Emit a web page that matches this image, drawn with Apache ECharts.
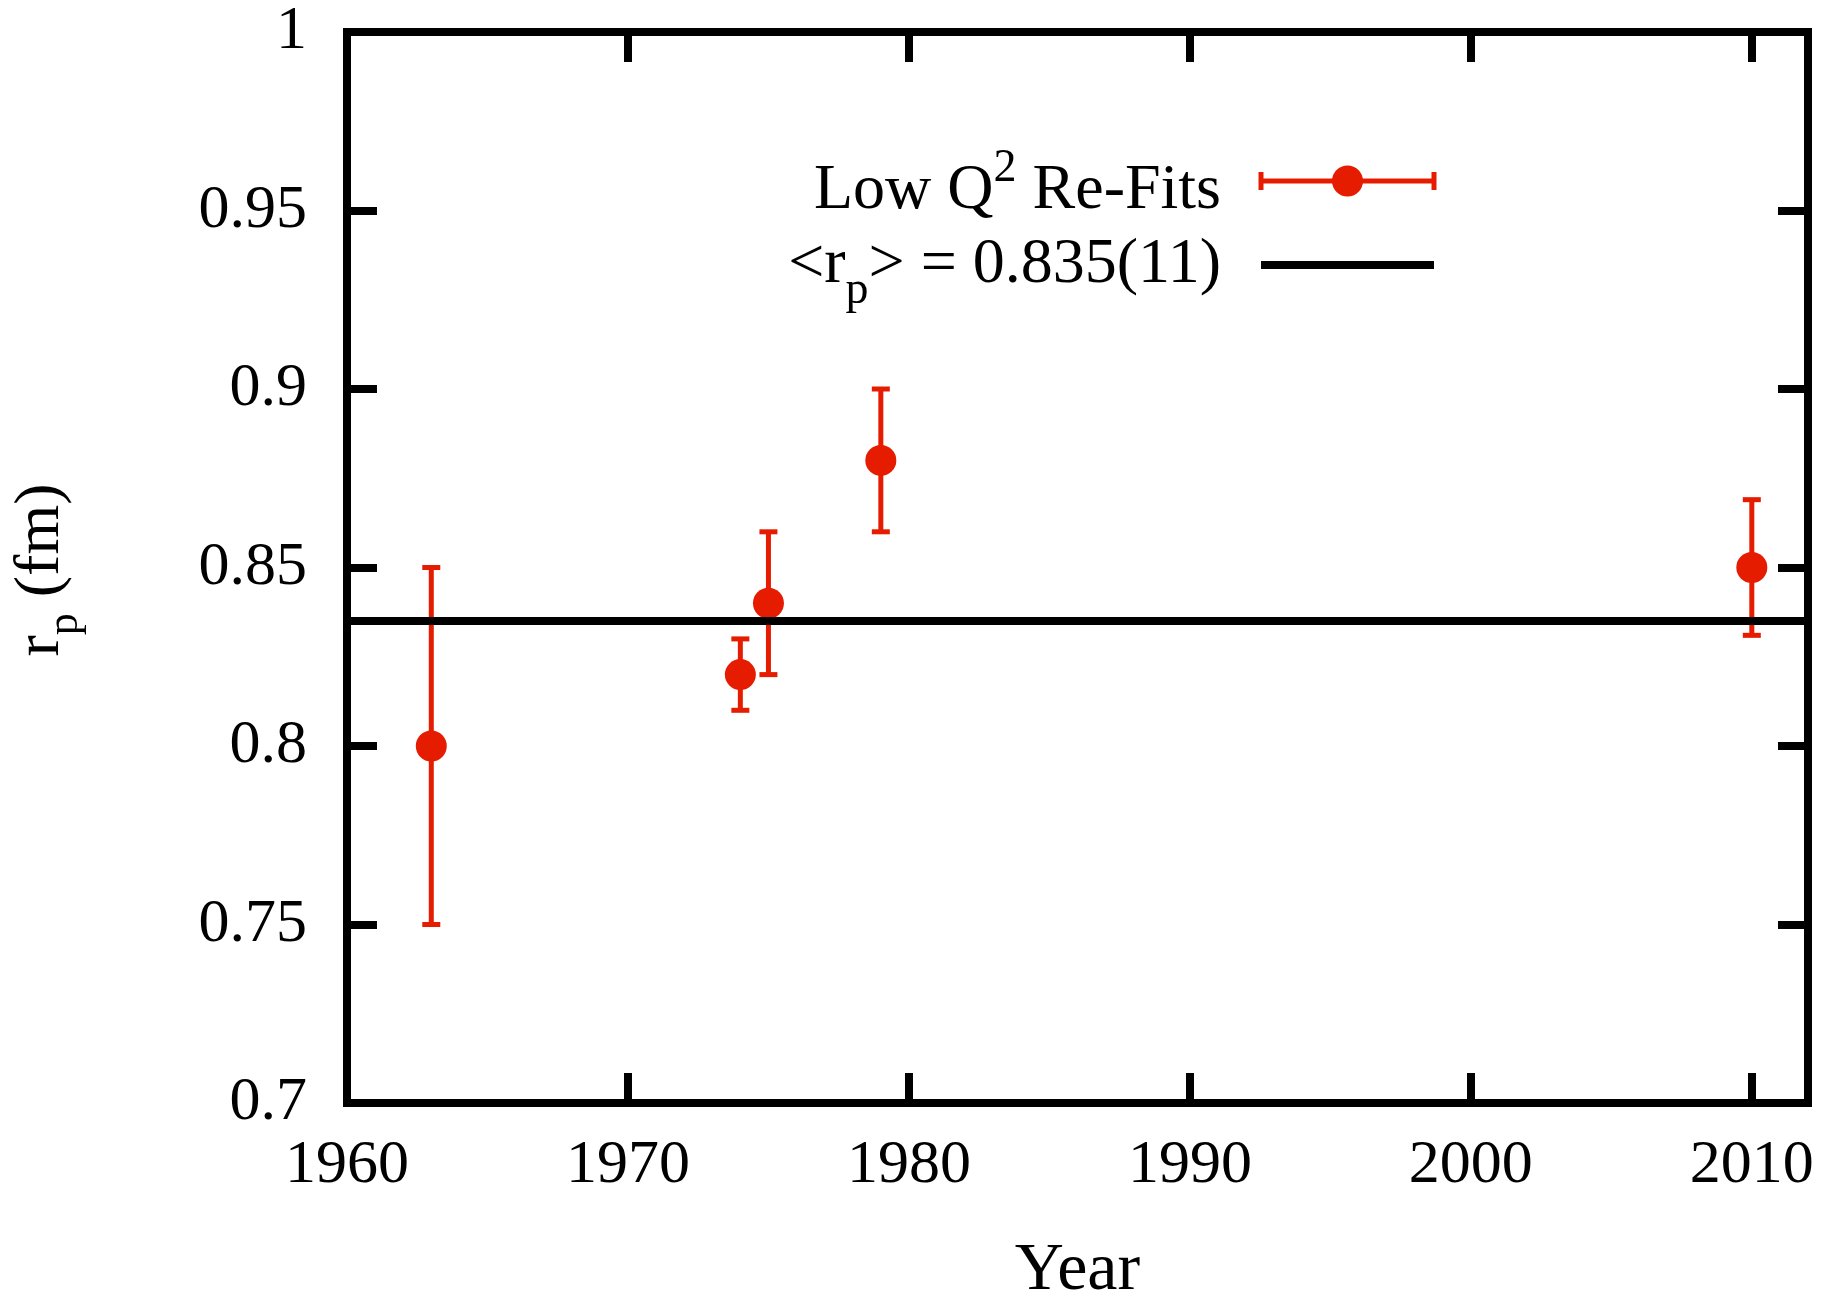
<!DOCTYPE html>
<html>
<head>
<meta charset="utf-8">
<script src="https://cdn.jsdelivr.net/npm/echarts@6/dist/echarts.min.js"></script>
<style>
  html, body { margin: 0; padding: 0; background: #fff; }
  #chart { width: 1836px; height: 1290px; }
</style>
</head>
<body>
<div id="chart"></div>
<script>
// data
const years = [1963, 1974, 1975, 1979, 2010];
const radius = [0.80, 0.82, 0.84, 0.88, 0.85];
const errors = [0.05, 0.01, 0.02, 0.02, 0.019];
const meanRadius = 0.835;
const yearRange = [1960, 2012];
const radiusRange = [0.7, 1.0];

const RED = '#e61c00';
const FONT = '"Liberation Serif", "Times New Roman", serif';

const myChart = echarts.init(document.getElementById('chart'));

// measure text so the sub/superscript pieces can be placed side by side
const measureCtx = document.createElement('canvas').getContext('2d');
function textWidth(text, size) {
  measureCtx.font = size + 'px ' + FONT;
  return measureCtx.measureText(text).width;
}

// parts: [text, fontSize, baselineShift]; returns text elements laid out from x0
function richPieces(parts, x0, baseline) {
  let x = x0;
  return parts.map(([text, size, shift]) => {
    const el = {
      type: 'text',
      style: {
        text: text,
        x: x,
        y: baseline + shift - size * 0.33,
        font: size + 'px ' + FONT,
        fill: '#000',
        align: 'left',
        verticalAlign: 'middle',
        textAlign: 'left',
        textVerticalAlign: 'middle',
      },
    };
    x += textWidth(text, size);
    return el;
  });
}
function piecesWidth(parts) {
  return parts.reduce((s, [t, size]) => s + textWidth(t, size), 0);
}

const legendRow1 = [['Low Q', 64, 0], ['2', 46, -28], [' Re-Fits', 64, 0]];
const legendRow2 = [['<r', 64, 0], ['p', 46, 20], ['> = 0.835(11)', 64, 0]];
const yName = [['r', 64, 0], ['p', 44, 18], [' (fm)', 64, 0]];

const legendRight = 1221;
const sampleX = [1261, 1434];
const row1Y = 181;
const row2Y = 265;

const errorData = years.map((y, i) => [y, radius[i], errors[i]]);
const pointData = years.map((y, i) => [y, radius[i]]);

const axisLineStyle = { color: '#000', width: 8, cap: 'square' };
const tickStyle = { show: true, inside: true, length: 30, lineStyle: { color: '#000', width: 8 } };
const labelStyle = { fontFamily: FONT, fontSize: 62, color: '#000' };

const option = {
  backgroundColor: '#fff',
  animation: false,
  grid: { left: 347, right: 28, top: 32, bottom: 187, containLabel: false, outerBoundsMode: 'none' },
  xAxis: [
    {
      type: 'value',
      min: yearRange[0],
      max: yearRange[1],
      interval: 10,
      axisLine: { onZero: false, lineStyle: axisLineStyle },
      axisTick: tickStyle,
      axisLabel: Object.assign({ margin: 32, showMaxLabel: false, formatter: (v) => String(v) }, labelStyle),
      splitLine: { show: false },
      name: 'Year',
      nameLocation: 'middle',
      nameGap: 134,
      nameTextStyle: { fontFamily: FONT, fontSize: 68, color: '#000', verticalAlign: 'top' },
    },
    {
      type: 'value',
      position: 'top',
      min: yearRange[0],
      max: yearRange[1],
      interval: 10,
      axisLine: { onZero: false, lineStyle: axisLineStyle },
      axisTick: tickStyle,
      axisLabel: { show: false },
      splitLine: { show: false },
    },
  ],
  yAxis: [
    {
      type: 'value',
      min: radiusRange[0],
      max: radiusRange[1],
      interval: 0.05,
      axisLine: { onZero: false, lineStyle: axisLineStyle },
      axisTick: tickStyle,
      axisLabel: Object.assign({ margin: 40 }, labelStyle),
      splitLine: { show: false },
    },
    {
      type: 'value',
      position: 'right',
      min: radiusRange[0],
      max: radiusRange[1],
      interval: 0.05,
      axisLine: { onZero: false, lineStyle: axisLineStyle },
      axisTick: tickStyle,
      axisLabel: { show: false },
      splitLine: { show: false },
    },
  ],
  series: [
    {
      name: 'errors',
      type: 'custom',
      z: 2,
      data: errorData,
      renderItem: (params, api) => {
        const x = api.value(0);
        const y = api.value(1);
        const e = api.value(2);
        const lo = api.coord([x, y - e]);
        const hi = api.coord([x, y + e]);
        const cap = 9;
        const st = { stroke: RED, lineWidth: 5 };
        return {
          type: 'group',
          children: [
            { type: 'line', shape: { x1: lo[0], y1: lo[1], x2: hi[0], y2: hi[1] }, style: st },
            { type: 'line', shape: { x1: lo[0] - cap, y1: lo[1], x2: lo[0] + cap, y2: lo[1] }, style: st },
            { type: 'line', shape: { x1: hi[0] - cap, y1: hi[1], x2: hi[0] + cap, y2: hi[1] }, style: st },
          ],
        };
      },
    },
    {
      name: 'Low Q2 Re-Fits',
      type: 'scatter',
      z: 3,
      data: pointData,
      symbol: 'circle',
      symbolSize: 31,
      itemStyle: { color: RED, opacity: 1 },
    },
    {
      name: 'mean',
      type: 'line',
      z: 4,
      data: [[yearRange[0], meanRadius], [yearRange[1], meanRadius]],
      showSymbol: false,
      symbol: 'none',
      lineStyle: { color: '#000', width: 8 },
    },
  ],
  graphic: [
    // legend text
    ...richPieces(legendRow1, legendRight - piecesWidth(legendRow1), 212),
    ...richPieces(legendRow2, legendRight - piecesWidth(legendRow2), 286),
    // legend sample: error bar with point
    { type: 'line', shape: { x1: sampleX[0], y1: row1Y, x2: sampleX[1], y2: row1Y }, style: { stroke: RED, lineWidth: 5 } },
    { type: 'line', shape: { x1: sampleX[0], y1: row1Y - 9, x2: sampleX[0], y2: row1Y + 9 }, style: { stroke: RED, lineWidth: 5 } },
    { type: 'line', shape: { x1: sampleX[1], y1: row1Y - 9, x2: sampleX[1], y2: row1Y + 9 }, style: { stroke: RED, lineWidth: 5 } },
    { type: 'circle', shape: { cx: (sampleX[0] + sampleX[1]) / 2, cy: row1Y, r: 15.5 }, style: { fill: RED } },
    // legend sample: mean line
    { type: 'line', shape: { x1: sampleX[0], y1: row2Y, x2: sampleX[1], y2: row2Y }, style: { stroke: '#000', lineWidth: 8 } },
    // y axis title, rotated
    {
      type: 'group',
      x: 62,
      y: 570,
      rotation: Math.PI / 2,
      children: richPieces(yName, -piecesWidth(yName) / 2, 0),
    },
  ],
};

myChart.setOption(option);
</script>
</body>
</html>
